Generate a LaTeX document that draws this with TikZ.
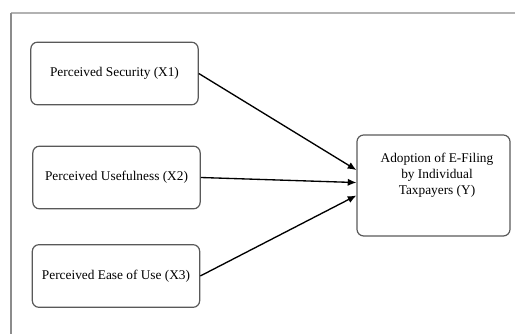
\documentclass[tikz,border=0pt]{standalone}
\usepackage{fontspec}
\setmainfont{Liberation Serif}
\newfontfamily\headfont{Liberation Sans}
\usetikzlibrary{arrows.meta}
\tikzset{
	varbox/.style={draw=black!65, rounded corners=5pt, line width=0.9pt, minimum width=125.5pt, minimum height=47pt, font=\fontsize{10}{12}\selectfont},
	pathto/.style={line width=1pt, -{Latex[length=6.5pt,width=5.5pt]}}
}
\begin{document}
\begin{tikzpicture}[x=0.75pt,y=-0.75pt]
					\useasboundingbox (0,0) rectangle (515,334);
					\clip (0,0) rectangle (515,334);
					
					\node [anchor=base west, inner sep=0pt, font=\headfont\fontsize{17.5}{20}\selectfont] (head) at (30,-4.5) {Model of the study is as follows:};
					
					\draw [black!30, line width=1.5pt] (11,13) -- (515,13);
					\draw [black!45, line width=0.9pt] (11,13) -- (11,334);
					
					\node [varbox] (sec) at (114.5,73.5) {Perceived Security (X1)};
					\node [varbox] (use) at (116.5,177.5) {Perceived Usefulness (X2)};
					\node [varbox] (ease) at (116,276) {Perceived Ease of Use (X3)};
					
					\node [varbox, minimum width=114.75pt, minimum height=75.75pt] (adopt) at (433.5,185.5) {};
					\node [align=center, font=\fontsize{10}{12}\selectfont] (adopttext) at (437,175.5) {Adoption of E-Filing\\by Individual\\Taxpayers (Y)};
					
					\draw [pathto] (sec.east) -- ([yshift=11.6pt]adopt.west);
					\draw [pathto] (use.east) -- ([yshift=2.2pt]adopt.west);
					\draw [pathto] (ease.east) -- ([yshift=-7.5pt]adopt.west);
				\end{tikzpicture}
\end{document}
